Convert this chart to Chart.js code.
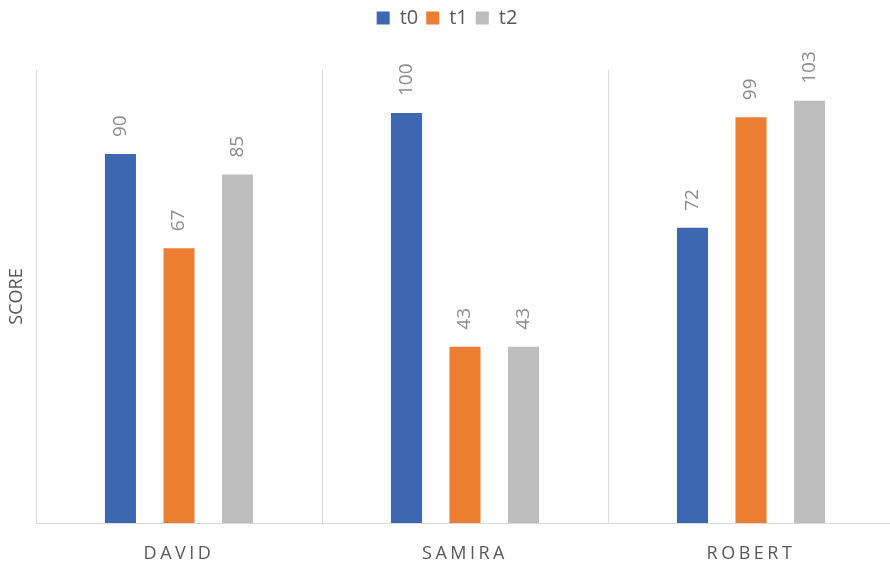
<!DOCTYPE html>
<html>
<head>
<meta charset="utf-8">
<script src="https://cdn.jsdelivr.net/npm/chart.js@4/dist/chart.umd.min.js"></script>
<style>
html,body{margin:0;padding:0;background:#fff;overflow:hidden;}
#wrap{width:890px;height:564px;position:relative;overflow:hidden;}
</style>
</head>
<body>
<div id="wrap"><canvas id="c" width="894" height="564"></canvas></div>
<script>
const categories = ["DAVID", "SAMIRA", "ROBERT"];
const seriesNames = ["t0", "t1", "t2"];
const t0 = [90, 100, 72];
const t1 = [67, 43, 99];
const t2 = [85, 43, 103];
const colors = ["#3d67b1", "#ed7d31", "#bdbdbd"];

const FONT = "'Open Sans', 'Noto Sans', sans-serif";

const spacerPlugin = {
  id: 'spacer',
  beforeLayout(chart) {
    const lg = chart.legend;
    if (lg && !lg._patched) {
      const f = lg.fit;
      lg.fit = function () { f.call(this); this.height += 32; };
      lg._patched = true;
    }
  },
  beforeDraw(chart) {
    const s = chart.scales.x;
    if (s && !s._lsPatched) {
      const orig = s.drawLabels;
      s.drawLabels = function (area) {
        const ctx = this.ctx;
        ctx.save();
        ctx.letterSpacing = '3.5px';
        orig.call(this, area);
        ctx.restore();
      };
      s._lsPatched = true;
    }
  }
};

const valueLabels = {
  id: 'valueLabels',
  afterDatasetsDraw(chart) {
    const ctx = chart.ctx;
    chart.data.datasets.forEach((ds, di) => {
      const meta = chart.getDatasetMeta(di);
      meta.data.forEach((bar, i) => {
        ctx.save();
        ctx.translate(bar.x, bar.y - 17);
        ctx.rotate(-Math.PI / 2);
        ctx.font = "19px " + FONT;
        ctx.fillStyle = "#8c8c8c";
        ctx.textAlign = "left";
        ctx.textBaseline = "middle";
        ctx.fillText(String(ds.data[i]), 0, 0);
        ctx.restore();
      });
    });
  }
};

new Chart(document.getElementById('c'), {
  type: 'bar',
  data: {
    labels: categories,
    datasets: [
      { label: seriesNames[0], data: t0, backgroundColor: colors[0] },
      { label: seriesNames[1], data: t1, backgroundColor: colors[1] },
      { label: seriesNames[2], data: t2, backgroundColor: colors[2] }
    ]
  },
  options: {
    responsive: false,
    animation: false,
    layout: { padding: 0 },
    datasets: { bar: { categoryPercentage: 0.614, barPercentage: 0.53 } },
    plugins: {
      legend: {
        position: 'top',
        align: 'center',
        labels: {
          boxWidth: 13,
          boxHeight: 13,
          padding: 8,
          color: '#595959',
          font: { size: 20, family: FONT }
        }
      },
      tooltip: { enabled: false }
    },
    scales: {
      x: {
        grid: { color: '#d9d9d9', lineWidth: 1, drawTicks: false, offset: true },
        border: { color: '#d9d9d9', width: 1 },
        ticks: { color: '#595959', padding: 20, font: { size: 18, family: FONT } },
        afterFit(s) { s.height = 41; }
      },
      y: {
        min: 0,
        max: 110.5,
        grid: { display: false },
        border: { display: false },
        ticks: { display: false },
        title: {
          display: true,
          text: 'SCORE',
          color: '#595959',
          padding: { top: 6, bottom: 4 },
          font: { size: 18, family: FONT }
        },
        afterFit(s) { s.width = 36; }
      }
    }
  },
  plugins: [spacerPlugin, valueLabels]
});
</script>
</body>
</html>
